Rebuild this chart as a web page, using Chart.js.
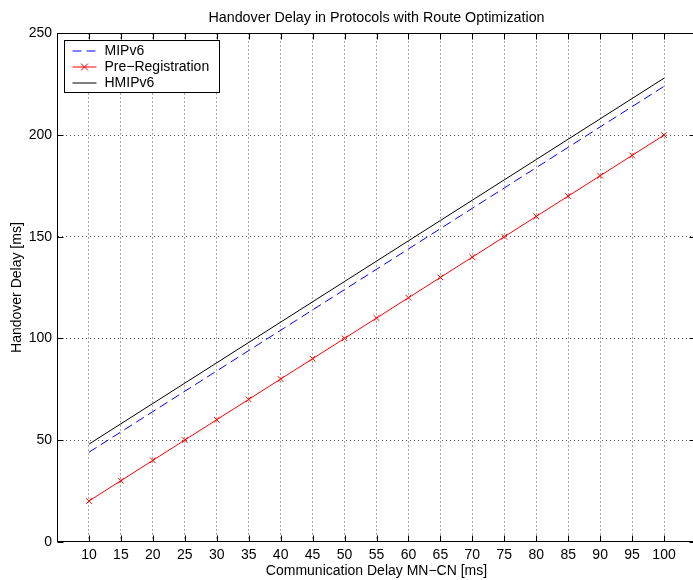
<!DOCTYPE html>
<html>
<head>
<meta charset="utf-8">
<script src="https://cdn.jsdelivr.net/npm/chart.js@4.4.1/dist/chart.umd.min.js"></script>
<style>
html, body { margin: 0; padding: 0; background: #fff; overflow: hidden; }
#wrap { width: 701px; height: 580px; position: relative; }
</style>
</head>
<body>
<div id="wrap"><canvas id="delayChart"></canvas></div>
<script>
// data
const commDelay = [10, 15, 20, 25, 30, 35, 40, 45, 50, 55, 60, 65, 70, 75, 80, 85, 90, 95, 100];
const mipv6     = [44, 54, 64, 74, 84, 94, 104, 114, 124, 134, 144, 154, 164, 174, 184, 194, 204, 214, 224];
const preReg    = [20, 30, 40, 50, 60, 70, 80, 90, 100, 110, 120, 130, 140, 150, 160, 170, 180, 190, 200];
const hmipv6    = [48, 58, 68, 78, 88, 98, 108, 118, 128, 138, 148, 158, 168, 178, 188, 198, 208, 218, 228];
const xTicks = commDelay;
const yTicks = [0, 50, 100, 150, 200, 250];

const FONT = 'Liberation Sans, Arial, Helvetica, sans-serif';
const BLUE = 'rgb(0,0,255)', RED = 'rgb(255,0,0)', BLACK = 'rgb(0,0,0)';

const toPoints = (ys) => ys.map((v, i) => ({ x: commDelay[i], y: v }));

// matlab style box with inward ticks
const boxFrame = {
    id: 'boxFrame',
    afterDraw(chart) {
        const ctx = chart.ctx;
        const { left, right, top, bottom } = chart.chartArea;
        const xs = chart.scales.x, ys = chart.scales.y;
        ctx.save();
        ctx.strokeStyle = '#000';
        ctx.lineWidth = 1;
        ctx.setLineDash([]);
        const L = Math.round(left) + 0.5, R = Math.round(right) - 0.5;
        const T = Math.round(top) + 0.5, B = Math.round(bottom) - 0.5;
        ctx.strokeRect(L, T, R - L, B - T);
        ctx.beginPath();
        xTicks.forEach(v => {
            const px = Math.round(xs.getPixelForValue(v)) + 0.5;
            ctx.moveTo(px, B); ctx.lineTo(px, B - 6);
            ctx.moveTo(px, T); ctx.lineTo(px, T + 6);
        });
        yTicks.forEach(v => {
            const py = Math.round(ys.getPixelForValue(v)) + 0.5;
            ctx.moveTo(L, py); ctx.lineTo(L + 6, py);
            ctx.moveTo(R, py); ctx.lineTo(R - 6, py);
        });
        ctx.stroke();
        ctx.restore();
    }
};

// legend box in the upper left corner of the axes
const legendItems = [
    { label: 'MIPv6', color: BLUE, dash: [9, 5], mark: false },
    { label: 'Pre\u2212Registration', color: RED, dash: [], mark: true },
    { label: 'HMIPv6', color: BLACK, dash: [], mark: false }
];

const boxLegend = {
    id: 'boxLegend',
    afterDraw(chart) {
        const ctx = chart.ctx;
        const { left, top } = chart.chartArea;
        const bx = Math.round(left) + 7.5, by = Math.round(top) + 7.5;
        const bw = 155, bh = 52;
        ctx.save();
        ctx.fillStyle = '#fff';
        ctx.fillRect(bx, by, bw, bh);
        ctx.strokeStyle = '#000';
        ctx.lineWidth = 1;
        ctx.setLineDash([]);
        ctx.strokeRect(bx, by, bw, bh);
        ctx.font = '14px ' + FONT;
        ctx.textBaseline = 'middle';
        legendItems.forEach((it, i) => {
            const cy = Math.round(by + 10 + i * 16);
            const x1 = bx + 8, x2 = bx + 32;
            ctx.strokeStyle = it.color;
            ctx.lineWidth = 1;
            ctx.setLineDash(it.dash);
            ctx.beginPath();
            ctx.moveTo(x1, cy); ctx.lineTo(x2, cy);
            ctx.stroke();
            ctx.setLineDash([]);
            if (it.mark) {
                const cx = (x1 + x2) / 2, r = 3.5;
                ctx.beginPath();
                ctx.moveTo(cx - r, cy - r); ctx.lineTo(cx + r, cy + r);
                ctx.moveTo(cx - r, cy + r); ctx.lineTo(cx + r, cy - r);
                ctx.stroke();
            }
            ctx.fillStyle = '#000';
            ctx.fillText(it.label, bx + 40, cy + 0.5);
        });
        ctx.restore();
    }
};

new Chart(document.getElementById('delayChart'), {
    type: 'line',
    data: {
        datasets: [
            {
                label: 'MIPv6',
                data: toPoints(mipv6),
                borderColor: BLUE,
                borderWidth: 1,
                borderDash: [9, 5],
                pointRadius: 0
            },
            {
                label: 'Pre\u2212Registration',
                data: toPoints(preReg),
                borderColor: RED,
                borderWidth: 1,
                pointStyle: 'crossRot',
                pointRadius: 4,
                pointBorderWidth: 1,
                pointBorderColor: RED,
                pointBackgroundColor: RED
            },
            {
                label: 'HMIPv6',
                data: toPoints(hmipv6),
                borderColor: BLACK,
                borderWidth: 1,
                pointRadius: 0
            }
        ]
    },
    options: {
        responsive: true,
        maintainAspectRatio: false,
        animation: false,
        layout: { padding: 0 },
        plugins: {
            legend: { display: false },
            tooltip: { enabled: false },
            title: {
                display: true,
                fullSize: false,
                text: 'Handover Delay in Protocols with Route Optimization',
                color: '#000',
                font: { family: FONT, size: 14.3, weight: 'normal' },
                padding: { top: 9, bottom: 7.3 }
            }
        },
        scales: {
            x: {
                type: 'linear',
                min: 5,
                max: 105,
                afterBuildTicks: a => { a.ticks = xTicks.map(v => ({ value: v })); },
                afterFit: a => { a.height = 38.3; },
                grid: { color: 'rgba(0,0,0,0.7)', lineWidth: 1, drawTicks: false },
                border: { display: true, color: '#000', width: 1, dash: [1, 3] },
                ticks: { color: '#000', padding: 5, maxRotation: 0, autoSkip: false, font: { family: FONT, size: 14 } },
                title: {
                    display: true,
                    text: 'Communication Delay MN\u2212CN [ms]',
                    color: '#000',
                    font: { family: FONT, size: 14 },
                    padding: { top: 0, bottom: 0 }
                }
            },
            y: {
                min: 0,
                max: 250,
                afterBuildTicks: a => { a.ticks = yTicks.map(v => ({ value: v })); },
                afterFit: a => { a.width = 57; },
                grid: { color: 'rgba(0,0,0,0.7)', lineWidth: 1, drawTicks: false },
                border: { display: true, color: '#000', width: 1, dash: [1, 3] },
                ticks: { color: '#000', padding: 5, font: { family: FONT, size: 14 } },
                title: {
                    display: true,
                    text: 'Handover Delay [ms]',
                    color: '#000',
                    font: { family: FONT, size: 14 },
                    padding: { top: 9, bottom: 0 }
                }
            }
        }
    },
    plugins: [boxFrame, boxLegend]
});
</script>
</body>
</html>
